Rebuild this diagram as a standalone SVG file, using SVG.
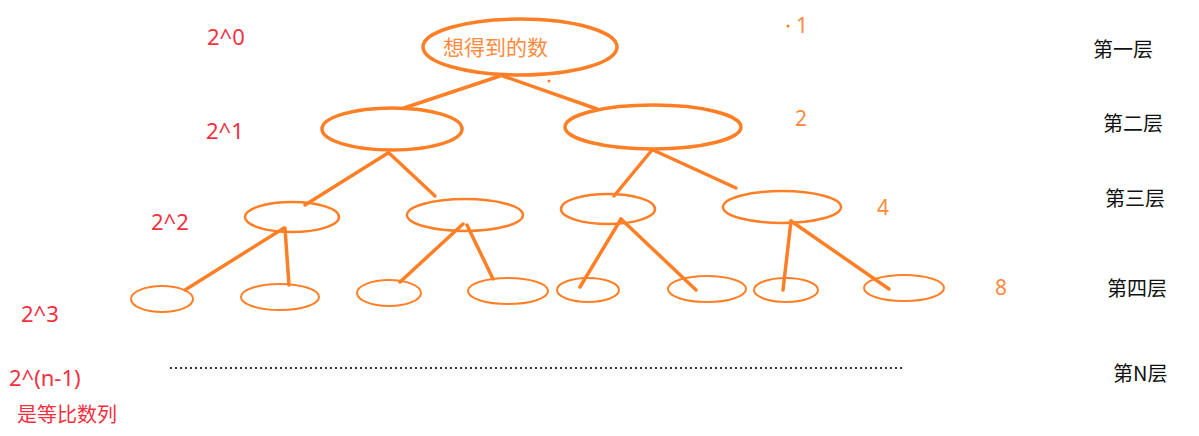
<svg xmlns="http://www.w3.org/2000/svg" width="1199" height="436" viewBox="0 0 1199 436">
<style>
.n{fill:none;stroke:#FF7F27}
.l1{stroke-width:3.5}
.l3{stroke-width:2.5}
.l4{stroke-width:2}
.c line{stroke:#FF7F27;stroke-width:3.5;stroke-linecap:round}
.red{fill:#F2303F;font-family:"Noto Sans","Noto Sans CJK SC",sans-serif;font-size:22px}
.redc{fill:#F2303F;font-family:"Noto Sans CJK SC",sans-serif;font-size:20px}
.or{fill:#FF8A3D;font-family:"Noto Sans","Noto Sans CJK SC",sans-serif;font-size:21px}
.blk{fill:#111;font-family:"Noto Sans CJK SC",sans-serif;font-size:20px}
</style>
<rect width="1199" height="436" fill="#fff"/>
<g id="connectors" class="c">
<line x1="500" y1="76" x2="404" y2="108"/>
<line x1="503" y1="76" x2="597" y2="109"/>
<line x1="388" y1="153" x2="305" y2="205"/>
<line x1="389" y1="153" x2="435" y2="196"/>
<line x1="652" y1="150" x2="614" y2="196"/>
<line x1="653" y1="150" x2="736" y2="188"/>
<line x1="284" y1="228" x2="185" y2="290"/>
<line x1="285" y1="228" x2="289" y2="285"/>
<line x1="463" y1="224" x2="400" y2="282"/>
<line x1="467" y1="225" x2="493" y2="279"/>
<line x1="621" y1="219" x2="580" y2="287"/>
<line x1="621" y1="219" x2="696" y2="290"/>
<line x1="791" y1="221" x2="783" y2="290"/>
<line x1="791" y1="221" x2="889" y2="289"/>
</g>
<g id="root"><ellipse class="n l1" cx="520" cy="47" rx="97" ry="28"/><text class="or" x="443" y="55" font-size="20">想得到的数</text></g>
<g id="n2a"><ellipse class="n l1" cx="392" cy="129" rx="70" ry="21"/></g>
<g id="n2b"><ellipse class="n l1" cx="653" cy="127" rx="88" ry="22"/></g>
<g id="n3a"><ellipse class="n l3" cx="292" cy="217" rx="47" ry="15"/></g>
<g id="n3b"><ellipse class="n l3" cx="465" cy="215" rx="58" ry="16"/></g>
<g id="n3c"><ellipse class="n l3" cx="608" cy="209" rx="47" ry="15"/></g>
<g id="n3d"><ellipse class="n l3" cx="782" cy="207" rx="59" ry="16"/></g>
<g id="n4a"><ellipse class="n l4" cx="162" cy="299" rx="31" ry="13"/></g>
<g id="n4b"><ellipse class="n l4" cx="280" cy="297" rx="39" ry="13"/></g>
<g id="n4c"><ellipse class="n l4" cx="389" cy="293" rx="32" ry="13"/></g>
<g id="n4d"><ellipse class="n l4" cx="508" cy="291" rx="40" ry="13"/></g>
<g id="n4e"><ellipse class="n l4" cx="588" cy="290" rx="31" ry="12"/></g>
<g id="n4f"><ellipse class="n l4" cx="707" cy="289" rx="39" ry="13"/></g>
<g id="n4g"><ellipse class="n l4" cx="786" cy="290" rx="32" ry="12"/></g>
<g id="n4h"><ellipse class="n l4" cx="904" cy="288" rx="40" ry="13"/></g>
<circle cx="549" cy="81" r="1.5" fill="#FF7F27"/>
<circle cx="788" cy="26" r="1.5" fill="#FF7F27"/>
<line x1="170" y1="368" x2="905" y2="368" stroke="#333" stroke-width="2" stroke-dasharray="2 3"/>
<g id="counts">
<text class="or" x="796" y="33">1</text>
<text class="or" x="795" y="126">2</text>
<text class="or" x="877" y="215">4</text>
<text class="or" x="995" y="295">8</text>
</g>
<g id="powers">
<text class="red" x="207" y="45">2^0</text>
<text class="red" x="206" y="139">2^1</text>
<text class="red" x="151" y="230">2^2</text>
<text class="red" x="21" y="322">2^3</text>
<text class="red" x="9" y="386">2^(n-1)</text>
<text class="redc" x="17" y="422" font-size="20.5">是等比数列</text>
</g>
<g id="levels">
<text class="blk" x="1093" y="57">第一层</text>
<text class="blk" x="1103" y="131">第二层</text>
<text class="blk" x="1105" y="206">第三层</text>
<text class="blk" x="1107" y="296">第四层</text>
<text class="blk" x="1113" y="381">第N层</text>
</g>
</svg>
